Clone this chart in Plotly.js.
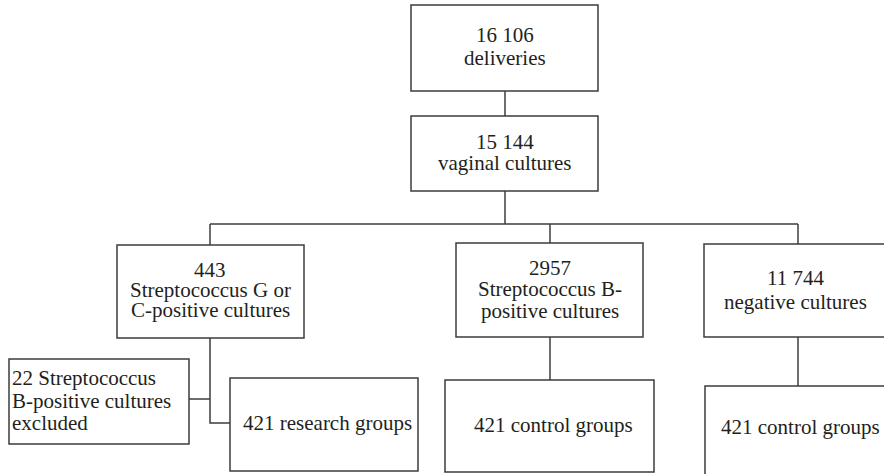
<!DOCTYPE html>
<html>
<head>
<meta charset="utf-8">
<script src="https://cdn.plot.ly/plotly-3.0.1.min.js"></script>
<style>html,body{margin:0;padding:0;background:#fff;}#chart{width:884px;height:474px;}</style>
</head>
<body>
<div id="chart"></div>
<script>
// ---- content (flowchart node texts) ----
const nodeIds = ["deliveries", "vaginal", "gcPositive", "gbPositive", "negative", "excluded", "research", "controlB", "controlNeg"];
const nodeLines = [
  ["16 106", "deliveries"],
  ["15 144", "vaginal cultures"],
  ["443", "Streptococcus G or", "C-positive cultures"],
  ["2957", "Streptococcus B-", "positive cultures"],
  ["11 744", "negative cultures"],
  ["22 Streptococcus", "B-positive cultures", "excluded"],
  ["421 research groups"],
  ["421 control groups"],
  ["421 control groups"]
];

// ---- layout geometry (pixel coordinates of boxes) ----
const geom = {
  deliveries: {x0: 411, x1: 598, y0: 5,   y1: 91,  ty: 46.5, sp: 23, align: "center"},
  vaginal:    {x0: 411, x1: 598, y0: 116, y1: 191, ty: 152.5, sp: 21, align: "center"},
  gcPositive: {x0: 117, x1: 304, y0: 245, y1: 338, ty: 290, sp: 20, align: "center", tx: 210},
  gbPositive: {x0: 456, x1: 643, y0: 243, y1: 337, ty: 289, sp: 21.5, align: "center"},
  negative:   {x0: 704, x1: 900, y0: 244, y1: 337, ty: 290, sp: 24, align: "center", tx: 795},
  excluded:   {x0: 9,   x1: 189, y0: 359, y1: 444, ty: 400.5, sp: 22.5, align: "left", tx: 10},
  research:   {x0: 230, x1: 418, y0: 378, y1: 471, ty: 423, sp: 21, align: "center", tx: 327},
  controlB:   {x0: 445, x1: 654, y0: 380, y1: 472, ty: 425, sp: 21, align: "center", tx: 553},
  controlNeg: {x0: 705, x1: 900, y0: 386, y1: 490, ty: 427, sp: 21, align: "center", tx: 800}
};
const connectors = [
  [[505, 91], [505, 116]],
  [[505, 191], [505, 224]],
  [[210, 224], [798, 224]],
  [[210, 224], [210, 245]],
  [[550, 224], [550, 243]],
  [[798, 224], [798, 244]],
  [[210, 338], [210, 423], [230, 423]],
  [[189, 399], [210, 399]],
  [[550, 337], [550, 380]],
  [[798, 337], [798, 386]]
];

const lineColor = "#3c3c3c";
const shapes = [];
const annotations = [];
nodeIds.forEach((id, i) => {
  const g = geom[id];
  shapes.push({type: "rect", xref: "x", yref: "y", x0: g.x0, x1: g.x1, y0: g.y0, y1: g.y1,
    line: {color: lineColor, width: 1.5}, fillcolor: "rgba(0,0,0,0)", layer: "above"});
  const lines = nodeLines[i];
  const n = lines.length;
  const cx = g.tx !== undefined ? g.tx : (g.x0 + g.x1) / 2;
  lines.forEach((t, k) => {
    annotations.push({
      xref: "x", yref: "y", x: cx, y: g.ty + (k - (n - 1) / 2) * g.sp,
      text: t, showarrow: false,
      xanchor: g.align === "left" ? "left" : "center", yanchor: "middle",
      font: {family: "Liberation Serif, Times New Roman, serif", size: 21, color: "#231f20"}
    });
  });
});
connectors.forEach(pts => {
  const d = pts.map((p, k) => (k === 0 ? "M" : "L") + p[0] + "," + p[1]).join(" ");
  shapes.push({type: "path", xref: "x", yref: "y", path: d, line: {color: lineColor, width: 1.5}});
});

const layout = {
  width: 884, height: 474,
  margin: {l: 0, r: 0, t: 0, b: 0},
  paper_bgcolor: "#ffffff", plot_bgcolor: "#ffffff",
  xaxis: {range: [0, 884], visible: false, fixedrange: true},
  yaxis: {range: [474, 0], visible: false, fixedrange: true},
  showlegend: false,
  shapes: shapes,
  annotations: annotations
};
Plotly.newPlot("chart", [{x: [], y: [], type: "scatter", mode: "markers", hoverinfo: "skip"}], layout,
  {displayModeBar: false, staticPlot: true});
</script>
</body>
</html>
